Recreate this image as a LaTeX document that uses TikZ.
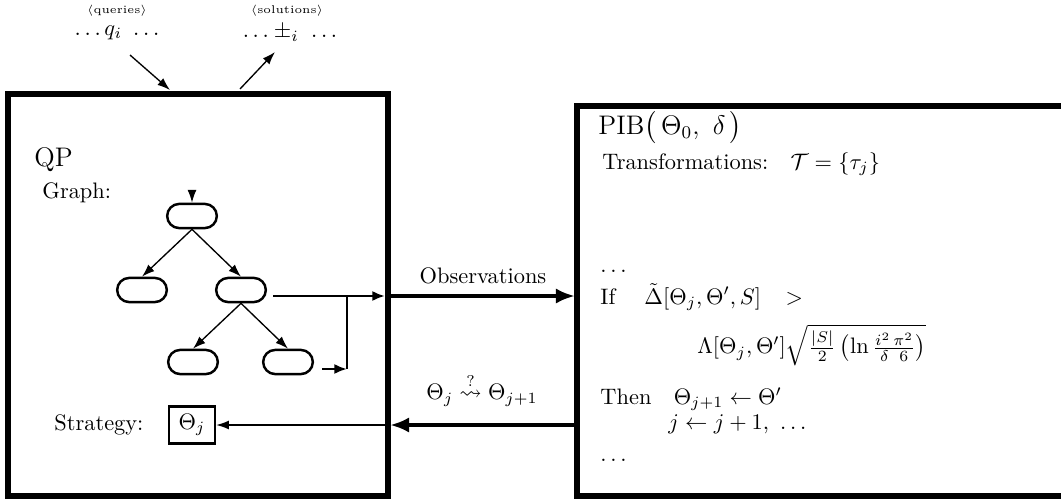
\documentclass[tikz,border=0pt]{standalone}
\usepackage{amsmath,amssymb}
\usetikzlibrary{positioning, shapes.misc, arrows.meta, calc}

\tikzset{
    qpFrame/.style={line width=2.7pt},
    graphNode/.style={
        rounded rectangle,
        draw,
        line width=1.1pt,
        minimum width=0.78cm,
        minimum height=0.38cm,
        inner sep=0pt
    },
    plainText/.style={anchor=west, inner sep=0pt, font=\normalsize},
    % Arrows
    thinArrow/.style={-{Latex[length=2mm,width=1.4mm]}, line width=0.6pt},
    midArrow/.style={-{Latex[length=2mm,width=1.6mm]}, line width=1.1pt},
    fatArrow/.style={-{Latex[length=3mm,width=2.4mm]}, line width=2.2pt}
}

\begin{document}
\begin{tikzpicture}[x=0.0157cm, y=-0.0157cm]
\useasboundingbox (0,0) rectangle (1061,502);

% frames
\draw[qpFrame] (8,94) rectangle (388,496);
\draw[qpFrame] (1080,106) -- (577,106) -- (577,496) -- (1080,496);

% top: queries / solutions
\node[font=\tiny] (qlab) at (117,11) {$\langle$queries$\rangle$};
\node (qdots) at (117,33) {$\ldots q_i\ \ldots$};
\node[font=\tiny] (slab) at (287,11) {$\langle$solutions$\rangle$};
\node (sdots) at (290,33) {$\ldots \pm_i\ \ldots$};
\coordinate (qin) at (170,90);
\coordinate (sout) at (240,89);
\draw[thinArrow] (130,55) -- (qin);
\draw[thinArrow] (sout) -- (275,52);

% QP side
\node[font=\large, anchor=west, inner sep=0pt] (qp) at (34,160) {QP};
\node[plainText] (graph) at (42,193) {Graph:};

\node[graphNode] (root) at (192,216) {};
\node[graphNode] (lc) at (142,290) {};
\node[graphNode] (rc) at (241,290) {};
\node[graphNode] (bl) at (193,362) {};
\node[graphNode] (br) at (288,362) {};

\coordinate (entry) at (192,192);
\draw[thinArrow] (entry) -- (root.north);
\draw[thinArrow] (root.south) -- (lc.north);
\draw[thinArrow] (root.south) -- (rc.north);
\draw[thinArrow] (rc.south) -- (bl.north);
\draw[thinArrow] (rc.south) -- (br.north);

\coordinate (rcout) at (273,296);
\coordinate (join) at (347,296);
\coordinate (qpout) at (385,296);
\coordinate (brout) at (322,369);
\coordinate (corner) at (347,369);
\draw[midArrow] (rcout) -- (qpout);
\draw[line width=1.1pt] (corner) -- (join);
\draw[midArrow] (brout) -- (corner);

\node[plainText] (strat) at (54,425) {Strategy:};
\node[draw, line width=1.1pt, minimum width=0.72cm, minimum height=0.58cm, inner sep=2pt] (theta) at (192,425) {$\Theta_j$};
\coordinate (qpin) at (385,425);
\draw[thinArrow] (qpin) -- (theta.east);

% between the frames
\coordinate (obsfrom) at (391,296);
\coordinate (obsto) at (575,296);
\draw[fatArrow] (obsfrom) -- node[above=1pt] {Observations} (obsto);
\coordinate (stepfrom) at (574,425);
\coordinate (stepto) at (390,425);
\draw[fatArrow] (stepfrom) -- node[above=4pt] {$\Theta_j \overset{?}{\rightsquigarrow} \Theta_{j+1}$} (stepto);

% PIB side
\node[font=\large, anchor=west, inner sep=0pt] (pib) at (598,128) {PIB$\bigl(\,\Theta_0,\ \delta\,\bigr)$};
\node[plainText] (transf) at (602,164) {Transformations:\hspace{1em}$\mathcal{T}=\{\tau_j\}$};
\node[plainText] (dotsa) at (600,271) {$\ldots$};
\node[plainText] (ifline) at (600,297) {If\hspace{1.3em}$\tilde{\Delta}[\Theta_j,\Theta',S]$\hspace{1.1em}$>$};
\node[plainText] (bound) at (697,345) {$\Lambda[\Theta_j,\Theta']\sqrt{\frac{|S|}{2}\left(\ln\frac{i^2\,\pi^2}{\delta\ \,6}\right)}$};
\node[plainText] (thenline) at (600,399) {Then\hspace{1em}$\Theta_{j+1}\leftarrow\Theta'$};
\node[plainText] (incline) at (668,424) {$j\leftarrow j+1,\ \ldots$};
\node[plainText] (dotsb) at (600,460) {$\ldots$};
\end{tikzpicture}
\end{document}
